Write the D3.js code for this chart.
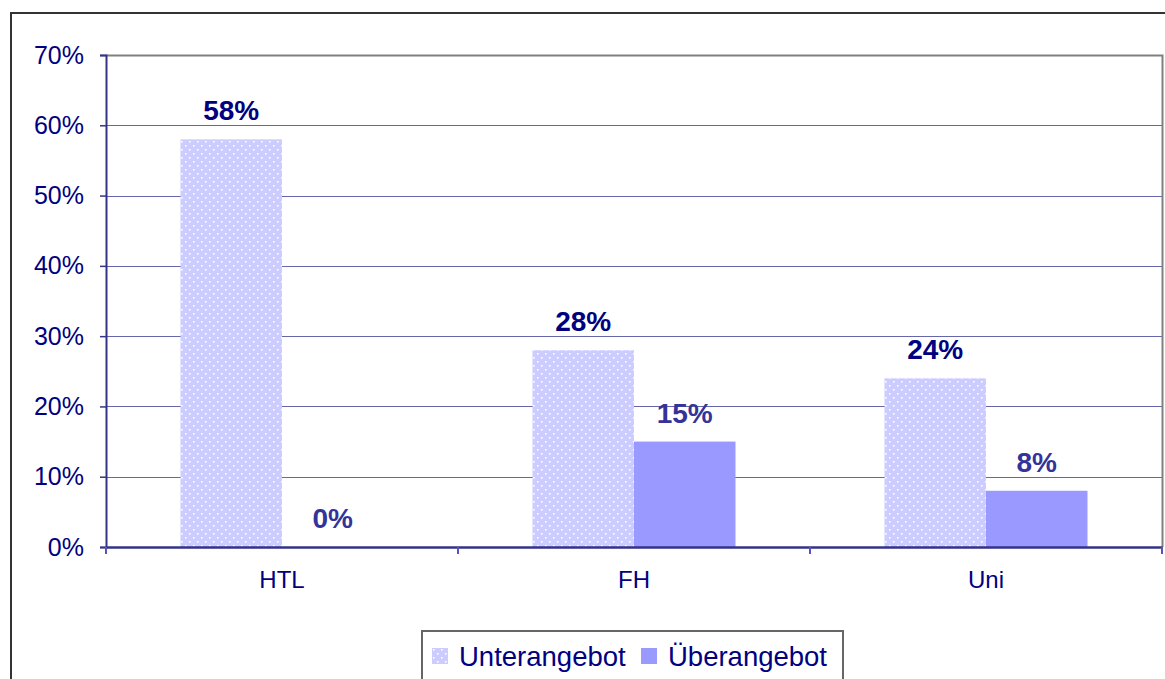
<!DOCTYPE html>
<html><head><meta charset="utf-8">
<script src="https://cdn.jsdelivr.net/npm/d3@7"></script>
<style>body{margin:0;background:#fff;}svg{display:block;font-family:"Liberation Sans",Arial,sans-serif;}</style>
</head><body><svg id="c" width="1165" height="679"></svg>
<script>
const categories = ["HTL", "FH", "Uni"];
const seriesNames = ["Unterangebot", "Überangebot"];
const unterangebot = [0.58, 0.28, 0.24];
const ueberangebot = [0.00, 0.15, 0.08];
const yTicks = [0, 0.1, 0.2, 0.3, 0.4, 0.5, 0.6, 0.7];

const svg = d3.select("#c");
const W = 1165, H = 679;
const m = {l:106, r:1162, t:55, b:547};

const defs = svg.append("defs");
const pat = defs.append("pattern").attr("id","dots").attr("patternUnits","userSpaceOnUse")
  .attr("width",8).attr("height",8);
pat.append("rect").attr("width",8).attr("height",8).attr("fill","#ccccff");
pat.append("rect").attr("x",1).attr("y",1).attr("width",1.6).attr("height",1.6).attr("fill","#ffffff");
pat.append("rect").attr("x",5).attr("y",5).attr("width",1.6).attr("height",1.6).attr("fill","#ffffff");

// outer frame
svg.append("rect").attr("x",11).attr("y",13).attr("width",W+20).attr("height",H+20)
  .attr("fill","none").attr("stroke","#333").attr("stroke-width",2);

const x = d3.scaleBand().domain(categories).range([m.l, m.r]).paddingInner(0).paddingOuter(0);
const xs = d3.scaleBand().domain(seriesNames).range([74.5, 277.5]).padding(0);
const y = d3.scaleLinear().domain([0, 0.7]).range([m.b, m.t]);

// gridlines
svg.append("g").selectAll("line").data(yTicks.filter(d=>d>0 && d<0.7)).join("line")
  .attr("x1",m.l).attr("x2",m.r).attr("y1",d=>Math.round(y(d))+0.5).attr("y2",d=>Math.round(y(d))+0.5)
  .attr("stroke","#6666aa").attr("stroke-width",1);
// plot border top/right
svg.append("path").attr("d",`M${m.l},${m.t+0.5}H${m.r+0.5}V${m.b}`).attr("fill","none")
  .attr("stroke","#808080").attr("stroke-width",2);

// bars
const vals = [unterangebot, ueberangebot];
const fills = ["url(#dots)", "#9999ff"];
const labelColors = ["#000080", "#333399"];
seriesNames.forEach((s, si) => {
  const g = svg.append("g");
  g.selectAll("rect").data(categories).join("rect")
    .attr("x", c => x(c) + xs(s)).attr("width", xs.bandwidth())
    .attr("y", (c,i) => y(vals[si][i])).attr("height", (c,i) => m.b - y(vals[si][i]))
    .attr("fill", fills[si]);
});

// axes
const yAxis = d3.axisLeft(y).tickValues(yTicks).tickFormat(d3.format(".0%")).tickSize(6).tickPadding(16);
const ya = svg.append("g").attr("transform",`translate(${m.l},0)`).call(yAxis);
ya.select(".domain").attr("stroke","#333388").attr("stroke-width",2);
ya.selectAll(".tick line").attr("stroke","#333388").attr("stroke-width",1.5);
ya.selectAll(".tick text").attr("fill","#000080").attr("font-size",25).attr("font-family","Liberation Sans, Arial, sans-serif");

const xAxis = d3.axisBottom(x).tickSize(0).tickPadding(24);
const xa = svg.append("g").attr("transform",`translate(0,${m.b})`).call(xAxis);
xa.select(".domain").attr("stroke","#333388").attr("stroke-width",2.5);
xa.selectAll(".tick text").attr("fill","#000080").attr("font-size",24).attr("font-family","Liberation Sans, Arial, sans-serif");
// category separator ticks
svg.append("g").selectAll("line").data(categories).join("line")
  .attr("x1",c=>x(c)+x.bandwidth()).attr("x2",c=>x(c)+x.bandwidth())
  .attr("y1",m.b).attr("y2",m.b+7).attr("stroke","#5555bb").attr("stroke-width",2);
svg.append("line").attr("x1",m.l).attr("x2",m.l).attr("y1",m.b).attr("y2",m.b+7)
  .attr("stroke","#5555bb").attr("stroke-width",2);

// value labels
seriesNames.forEach((s, si) => {
  svg.append("g").selectAll("text").data(categories).join("text")
    .attr("x", c => x(c) + xs(s) + xs.bandwidth()/2)
    .attr("y", (c,i) => y(vals[si][i]) - 19)
    .attr("text-anchor","middle").attr("font-weight","bold").attr("font-size",28)
    .attr("fill", labelColors[si])
    .text((c,i) => d3.format(".0%")(vals[si][i]));
});

// legend
const lg = svg.append("g");
lg.append("rect").attr("x",422).attr("y",631).attr("width",421).attr("height",60)
  .attr("fill","#fff").attr("stroke","#666").attr("stroke-width",2);
const legItems = [{x:432, tx:459, f:fills[0], t:seriesNames[0]}, {x:641, tx:668, f:fills[1], t:seriesNames[1]}];
legItems.forEach(it => {
  lg.append("rect").attr("x",it.x).attr("y",648).attr("width",16).attr("height",16).attr("fill",it.f);
  lg.append("text").attr("x",it.tx).attr("y",666).attr("font-size",27.5).attr("fill","#000080").text(it.t);
});
</script></body></html>
